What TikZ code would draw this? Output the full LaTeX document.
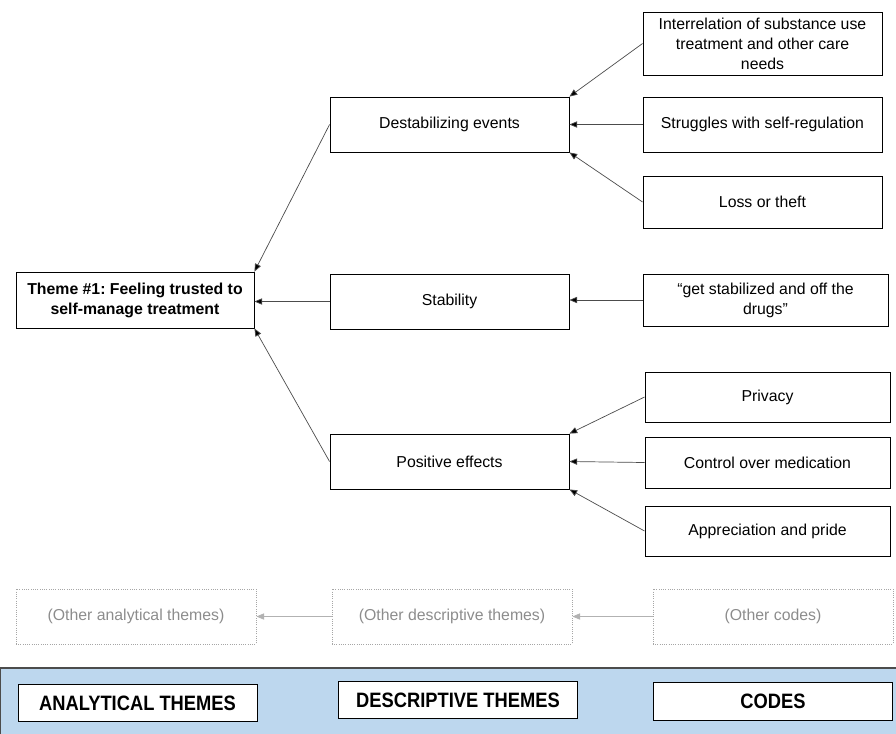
\documentclass[tikz,border=0pt]{standalone}
\usepackage{fontspec}
\setmainfont{Liberation Sans}
\newfontfamily\levelfont[FakeStretch = 0.88]{Liberation Sans}
\usetikzlibrary{arrows.meta}
\definecolor{bandblue}{RGB}{189,215,238}
\newcommand\boxfont{\fontsize{11.25}{14.2}\selectfont}
\frenchspacing
\begin{document}
\begin{tikzpicture}[
		x = 0.025 cm, y = -0.025 cm,
		font = \boxfont,
		>= {Triangle[length = 5.5pt, width = 4.5pt]},
		box/.style = {draw, line width = 0.6pt, inner sep = 0pt, align = center, minimum width = 5.975 cm},
		theme/.style = {box, font = \boxfont\bfseries, minimum width = 5.95 cm, minimum height = 1.4 cm},
		desc/.style = {box, minimum height = 1.375 cm},
		code/.style = {box, minimum height = 1.3 cm},
		other/.style = {draw = black!35, densely dotted, line width = 0.6pt, text = black!45, minimum width = 6 cm, minimum height = 1.375 cm},
		level/.style = {draw, line width = 0.6pt, fill = white, font = \levelfont\fontsize{14.8}{16}\selectfont\bfseries, minimum width = 5.975 cm, minimum height = 0.925 cm},
		link/.style = {-{Triangle[length = 5.5pt, width = 4.5pt, fill = black]}, draw = black!70, line width = 0.5pt},
		otherlink/.style = {->, draw = black!30, line width = 0.5pt}
	]
	\useasboundingbox (0, 0) rectangle (896, 733);

	% analytical theme
	\node[theme] (t1) at (135, 300) {Theme \#1: Feeling trusted to\\self-manage treatment};

	% descriptive themes
	\node[desc] (d1) at (449.5, 124.5) {Destabilizing events};
	\node[desc] (d2) at (449.5, 301.5) {Stability};
	\node[desc] (d3) at (449.5, 461.5) {Positive effects};

	% codes
	\node[code, minimum height = 1.575 cm] (c1) at (762.5, 43.5) {Interrelation of substance use\\treatment and other care\\needs};
	\node[code, minimum height = 1.375 cm] (c2) at (762.5, 124.5) {Struggles with self-regulation};
	\node[code] (c3) at (762.5, 202) {Loss or theft};
	\node[code, minimum width = 6.125 cm] (c4) at (765.5, 300) {“get stabilized and off the\\drugs”};
	\node[code, minimum width = 6.125 cm, minimum height = 1.25 cm] (c5) at (767.5, 397) {Privacy};
	\node[code, minimum width = 6.125 cm, minimum height = 1.275 cm] (c6) at (767.5, 462.5) {Control over medication};
	\node[code, minimum width = 6.125 cm, minimum height = 1.25 cm] (c7) at (767.5, 531) {Appreciation and pride};

	\draw[link] (c1.west) -- (d1.north east);
	\draw[link] (c2.west) -- (d1.east);
	\draw[link] (c3.west) -- (d1.south east);
	\draw[link] (c4.west) -- (d2.east |- c4.west);
	\draw[link] (c5.west) -- (d3.north east);
	\draw[link] (c6.west) -- (d3.east);
	\draw[link] (c7.west) -- (d3.south east);

	\draw[link] (d1.west) -- (t1.north east);
	\draw[link] (d2.west) -- (t1.east |- d2.west);
	\draw[link] (d3.west) -- (t1.south east);

	% the other themes and codes
	\node[other] (oa) at (136, 616.5) {(Other analytical themes)};
	\node[other] (od) at (452, 616.5) {(Other descriptive themes)};
	\node[other] (oc) at (773, 616.5) {(Other codes)};
	\draw[otherlink] (od) -- (oa);
	\draw[otherlink] (oc) -- (od);

	% levels
	\draw[draw = black!70, line width = 0.8pt, fill = bandblue] (0.5, 668) rectangle (905, 745);
	\node[level] (la) at (137.5, 703) {ANALYTICAL THEMES};
	\node[level] (ld) at (458, 700) {DESCRIPTIVE THEMES};
	\node[level, minimum height = 0.95 cm] (lc) at (773, 701) {CODES};
\end{tikzpicture}
\end{document}
